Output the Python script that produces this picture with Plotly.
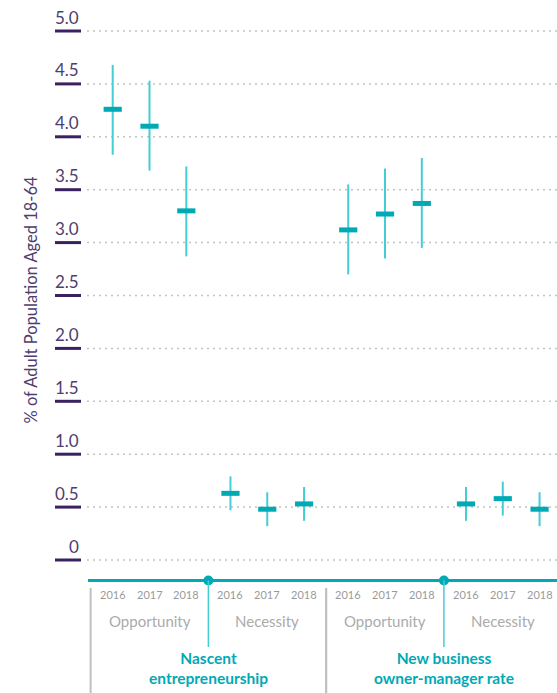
import plotly.graph_objects as go

# data
groups = ["Nascent<br>entrepreneurship", "New business<br>owner-manager rate"]
motives = ["Opportunity", "Necessity"]
years = ["2016", "2017", "2018"]
mid = [4.26, 4.10, 3.30, 0.63, 0.48, 0.53, 3.12, 3.27, 3.37, 0.53, 0.58, 0.48]
low = [3.83, 3.68, 2.87, 0.47, 0.32, 0.37, 2.70, 2.85, 2.95, 0.37, 0.42, 0.32]
high = [4.68, 4.53, 3.72, 0.79, 0.64, 0.69, 3.55, 3.70, 3.80, 0.69, 0.74, 0.64]
y_ticks = [0, 0.5, 1.0, 1.5, 2.0, 2.5, 3.0, 3.5, 4.0, 4.5, 5.0]
y_tick_text = ["0", "0.5", "1.0", "1.5", "2.0", "2.5", "3.0", "3.5", "4.0", "4.5", "5.0"]

TEAL = "#00aab5"
TEAL_LIGHT = "#45cdd5"
PURPLE = "#3b2160"
PURPLE_TXT = "#4d3d70"
FONT = "Lato"

# x positions: subgroups of three years, small gap between subgroups
xs, xlab = [], []
for g in range(len(groups)):
    for m in range(len(motives)):
        for i, yr in enumerate(years):
            xs.append(3.2 * (2 * g + m) + i)
            xlab.append(yr)

W, H = 557, 693
px_x = 36.8          # pixels per x unit
x0_px = 112.7        # pixel of first point
px_y = 105.8         # pixels per y unit
y0_px = 560          # pixel of zero
xr = [-x0_px / px_x, (W - x0_px) / px_x]
yr = [-(H - y0_px) / px_y, y0_px / px_y]

def dx(p):
    return p / px_x

def dy(p):
    return p / px_y

fig = go.Figure()
fig.add_trace(go.Scatter(
    x=xs, y=mid, mode="markers",
    marker=dict(symbol="line-ew-open", size=13, color=TEAL, line=dict(width=5, color=TEAL)),
    error_y=dict(type="data", symmetric=False,
                 array=[h - m for h, m in zip(high, mid)],
                 arrayminus=[m - l for m, l in zip(mid, low)],
                 color=TEAL_LIGHT, thickness=2, width=0),
    hoverinfo="skip", showlegend=False,
))

shapes = []
ann = []
grid_left = xr[0] + dx(87)
tick_l, tick_r = xr[0] + dx(55), xr[0] + dx(81)
for v, t in zip(y_ticks, y_tick_text):
    shapes.append(dict(type="line", x0=grid_left, x1=xr[1], y0=v, y1=v,
                       line=dict(color="#c4c4c4", width=1.5, dash="2px,4px"), layer="below"))
    shapes.append(dict(type="line", x0=tick_l, x1=tick_r, y0=v, y1=v,
                       line=dict(color=PURPLE, width=3)))
    ann.append(dict(x=tick_r, y=v + dy(14), text=t, showarrow=False, xanchor="right",
                    yanchor="middle", font=dict(family=FONT, size=17, color=PURPLE_TXT)))

# bottom category axis
base_y = -dy(20.5)
shapes.append(dict(type="line", x0=xr[0] + dx(88), x1=xr[1], y0=base_y, y1=base_y,
                   line=dict(color=TEAL, width=3)))
for g in range(len(groups)):
    gx = 3.2 * 2 * g
    # group borders
    for bx in [gx - 0.6, gx + 5.8]:
        shapes.append(dict(type="line", x0=bx, x1=bx, y0=-dy(28), y1=yr[0],
                           line=dict(color="#c0c0c0", width=2)))
    cx = gx + 2.6
    shapes.append(dict(type="line", x0=cx, x1=cx, y0=base_y, y1=-dy(87),
                       line=dict(color=TEAL_LIGHT, width=1.5)))
    ann.append(dict(x=cx, y=-dy(108), text="<b>" + groups[g] + "</b>", showarrow=False,
                    yanchor="middle", font=dict(family=FONT, size=15.5, color=TEAL)))
    for m in range(len(motives)):
        ann.append(dict(x=3.2 * (2 * g + m) + 1, y=-dy(61), text=motives[m], showarrow=False,
                        font=dict(family=FONT, size=15, color="#ababab")))

for x, t in zip(xs, xlab):
    ann.append(dict(x=x, y=-dy(34), text=t, showarrow=False,
                    font=dict(family=FONT, size=11, color="#9a9a9a")))

fig.add_trace(go.Scatter(
    x=[3.2 * 2 * g + 2.6 for g in range(len(groups))], y=[base_y] * len(groups),
    mode="markers", marker=dict(size=10, color=TEAL), hoverinfo="skip", showlegend=False,
))

ann.append(dict(x=xr[0] + dx(30), y=dy(260.5), text="% of Adult Population Aged 18-64",
                textangle=-90, showarrow=False,
                font=dict(family=FONT, size=16.5, color=PURPLE_TXT)))

fig.update_layout(
    width=W, height=H,
    margin=dict(l=0, r=0, t=0, b=0),
    paper_bgcolor="white", plot_bgcolor="white",
    xaxis=dict(range=xr, visible=False, fixedrange=True),
    yaxis=dict(range=yr, visible=False, fixedrange=True),
    shapes=shapes, annotations=ann,
)
# drop the default page margin so the figure fills the window
fig.write_html("out.html", config={"displayModeBar": False},
               post_script="document.body.style.margin='0';")
